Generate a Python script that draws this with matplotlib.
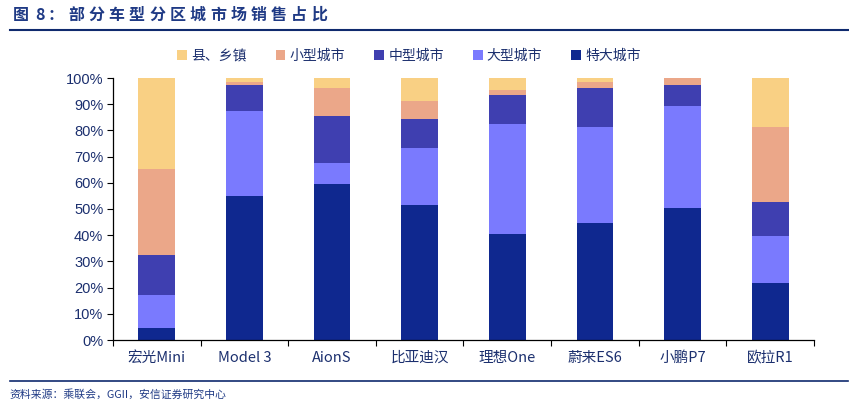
import numpy as np
import matplotlib
matplotlib.use('Agg')
import matplotlib.pyplot as plt
from matplotlib.lines import Line2D

plt.rcParams['font.family'] = ['Noto Sans CJK SC', 'DejaVu Sans']

# 数据：各车型分城市等级销售占比（%）
models = ['宏光Mini', 'Model 3', 'AionS', '比亚迪汉', '理想One', '蔚来ES6', '小鹏P7', '欧拉R1']
tier_mega = [4.5, 55.0, 59.6, 51.5, 40.4, 44.6, 50.4, 21.7]   # 特大城市
tier_big = [12.8, 32.5, 8.0, 21.8, 42.1, 36.8, 39.0, 18.0]    # 大型城市
tier_mid = [15.1, 9.9, 18.0, 11.1, 11.1, 14.9, 8.0, 13.0]     # 中型城市
tier_small = [32.8, 1.1, 10.7, 6.9, 1.9, 2.2, 2.6, 28.7]      # 小型城市
tier_county = [34.8, 1.5, 3.7, 8.7, 4.5, 1.5, 0.0, 18.6]      # 县、乡镇

series = [
    ('特大城市', tier_mega, '#0f288f'),
    ('大型城市', tier_big, '#7a7afe'),
    ('中型城市', tier_mid, '#3f3fb0'),
    ('小型城市', tier_small, '#eba789'),
    ('县、乡镇', tier_county, '#f9d084'),
]

navy = '#1b2f6e'

fig = plt.figure(figsize=(8.49, 4.08), dpi=100)
ax = fig.add_axes([113 / 849, 1 - 340 / 408, 701 / 849, 262 / 408])

x = np.arange(len(models))
bottom = np.zeros(len(models))
handles = {}
for name, vals, color in series:
    v = np.array(vals) / 100.0
    b = ax.bar(x, v, width=0.42, bottom=bottom, color=color, label=name)
    handles[name] = b
    bottom += v

ax.set_xlim(-0.5, len(models) - 0.5)
ax.set_ylim(0, 1)
ax.set_yticks(np.arange(0, 1.01, 0.1))
ax.set_yticklabels(['%d%%' % (i * 10) for i in range(11)],
                   fontsize=10.5, color=navy, family=['Liberation Sans', 'DejaVu Sans'])
ax.set_xticks(np.arange(-0.5, len(models), 1.0))
ax.set_xticklabels([])
ax.set_xticks(x, minor=True)
ax.set_xticklabels(models, minor=True, fontsize=10.5, color=navy)
ax.tick_params(axis='x', which='minor', length=0, pad=8)
ax.tick_params(axis='x', which='major', length=4, direction='out', color='black')
ax.tick_params(axis='y', length=4, direction='out', color='black', pad=3)
for s in ['top', 'right']:
    ax.spines[s].set_visible(False)
for s in ['left', 'bottom']:
    ax.spines[s].set_color('black')
    ax.spines[s].set_linewidth(0.9)

order = ['县、乡镇', '小型城市', '中型城市', '大型城市', '特大城市']
leg = fig.legend([handles[n] for n in order], order, loc='center',
                 bbox_to_anchor=(409 / 849, 1 - 56 / 408), ncol=5, frameon=False,
                 fontsize=10, handlelength=0.7, handleheight=0.7,
                 handletextpad=0.3, columnspacing=2.1)
for t in leg.get_texts():
    t.set_color(navy)

# 标题（字间距较宽，逐字放置）
title_chars = ['图', '8', '：'] + list('部分车型分区城市场销售占比')
title_x = [13, 35, 48] + [68 + 20.3 * i for i in range(13)]
for ch, px in zip(title_chars, title_x):
    fig.text(px / 849, 1 - 15 / 408, ch, fontsize=11.5, fontweight='bold',
             color='#1f3a85', va='center', ha='left')

# 分隔线
fig.add_artist(Line2D([10 / 849, 848 / 849], [1 - 29.5 / 408] * 2,
                      color='#0f2a6e', linewidth=1.5, transform=fig.transFigure))
fig.add_artist(Line2D([10 / 849, 848 / 849], [1 - 381 / 408] * 2,
                      color='#0f2a6e', linewidth=1.2, transform=fig.transFigure))
fig.text(9 / 849, 1 - 394 / 408, '资料来源：乘联会，GGII，安信证券研究中心', fontsize=7.8,
         style='italic', color='#1f3a85', va='center', ha='left')

fig.savefig('out.png', dpi=100)
